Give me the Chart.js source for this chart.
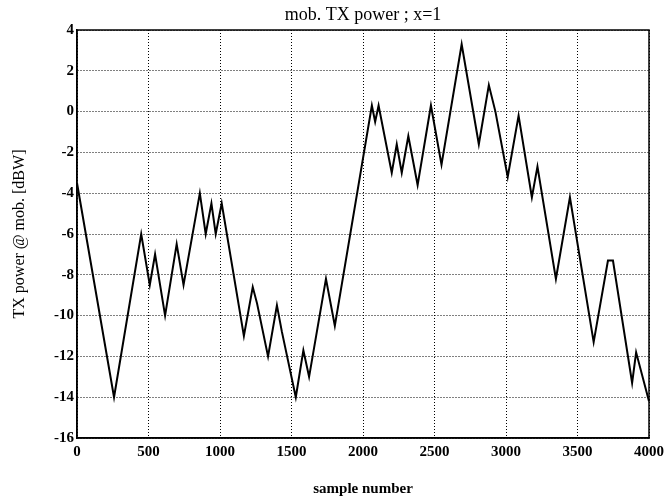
<!DOCTYPE html>
<html>
<head>
<meta charset="utf-8">
<script src="https://cdn.jsdelivr.net/npm/chart.js@4.4.1/dist/chart.umd.min.js"></script>
<style>
  html, body { margin: 0; padding: 0; background: #fff; }
  #wrap { width: 669px; height: 501px; }
</style>
</head>
<body>
<div id="wrap"><canvas id="txChart" width="669" height="501"></canvas></div>
<script>
// sample index of each turning point of the power curve
const sampleIdx = [0, 259, 449, 509, 546, 616, 697, 745, 859, 900, 940, 970, 1012,
  1167, 1229, 1259, 1336, 1398, 1433, 1530, 1583, 1623, 1741, 1803,
  2062, 2085, 2109, 2201, 2236, 2271, 2317, 2382, 2475, 2549, 2690,
  2810, 2880, 2926, 3012, 3088, 3181, 3220, 3349, 3447, 3613, 3713,
  3748, 3882, 3910, 4000];
// TX power at those samples [dBW]
const txPower = [-3.5, -14, -6, -8.5, -7, -10, -6.5, -8.5, -4, -6, -4.5, -6, -4.5,
  -11, -8.6, -9.4, -12, -9.5, -10.8, -14, -11.7, -13, -8.2, -10.5,
  0.3, -0.5, 0.3, -3, -1.6, -3, -1.2, -3.6, 0.3, -2.6, 3.3,
  -1.6, 1.3, 0, -3.2, -0.2, -4.2, -2.7, -8.2, -4.2, -11.3, -7.3,
  -7.3, -13.3, -11.8, -14.2];
const xTicks = [0, 500, 1000, 1500, 2000, 2500, 3000, 3500, 4000];
const yTicks = [-16, -14, -12, -10, -8, -6, -4, -2, 0, 2, 4];

const serif = "'Liberation Serif', 'DejaVu Serif', serif";
const tickFont = { family: serif, size: 15, weight: 'bold' };

// solid box around the plot
const frame = {
  id: 'frame',
  afterDraw(chart) {
    const a = chart.chartArea, c = chart.ctx;
    c.save();
    c.setLineDash([]);
    c.strokeStyle = '#000';
    c.lineWidth = 1.5;
    c.strokeRect(a.left, a.top, a.right - a.left, a.bottom - a.top);
    c.restore();
  }
};

const ctx = document.getElementById('txChart').getContext('2d');
new Chart(ctx, {
  type: 'line',
  data: {
    datasets: [{
      data: sampleIdx.map((s, i) => ({ x: s, y: txPower[i] })),
      borderColor: '#000',
      borderWidth: 2,
      pointRadius: 0,
      tension: 0,
      fill: false,
      clip: false
    }]
  },
  options: {
    responsive: false,
    animation: false,
    layout: { padding: { left: 0, right: 16, top: 0, bottom: 0 } },
    plugins: {
      legend: { display: false },
      tooltip: { enabled: false }
    },
    scales: {
      // top axis only carries the title, so it is centred over the plot
      top: {
        type: 'linear',
        position: 'top',
        min: 0, max: 4000,
        afterFit: s => { s.height = 30; },
        ticks: { display: false },
        grid: { display: false },
        border: { display: false },
        title: {
          display: true, text: 'mob. TX power ; x=1', color: '#000',
          font: { family: serif, size: 18, weight: 'normal' },
          padding: { top: 4, bottom: 0 }
        }
      },
      x: {
        type: 'linear',
        position: 'bottom',
        min: 0, max: 4000,
        afterBuildTicks: s => { s.ticks = xTicks.map(v => ({ value: v })); },
        afterFit: s => { s.height = 63; },
        ticks: { color: '#000', font: tickFont, padding: 5, maxRotation: 0, callback: v => String(v) },
        grid: { color: '#000', lineWidth: 1, drawTicks: false, tickLength: 0 },
        border: { display: true, color: '#000', width: 1.5, dash: [1, 2] },
        title: {
          display: true, text: 'sample number', color: '#000',
          font: { family: serif, size: 15, weight: 'bold' },
          padding: { top: 0, bottom: 3 }
        }
      },
      y: {
        type: 'linear',
        min: -16, max: 4,
        afterBuildTicks: s => { s.ticks = yTicks.map(v => ({ value: v })); },
        afterFit: s => { s.width = 77; },
        ticks: { color: '#000', font: tickFont, padding: 3, callback: v => String(v) },
        grid: { color: '#000', lineWidth: 1, drawTicks: false, tickLength: 0 },
        border: { display: true, color: '#000', width: 1.5, dash: [1, 2] },
        title: {
          display: true, text: 'TX power @ mob. [dBW]', color: '#000',
          font: { family: serif, size: 16, weight: 'normal' },
          padding: { top: 10, bottom: 0 }
        }
      }
    }
  },
  plugins: [frame]
});
</script>
</body>
</html>
